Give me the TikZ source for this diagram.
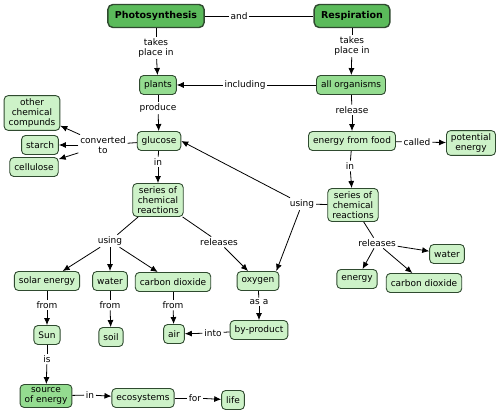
\documentclass[tikz,border=0pt]{standalone}
\usepackage{fontspec}
\setmainfont{DejaVu Sans}
\usetikzlibrary{arrows.meta}
\definecolor{darkleaf}{HTML}{5BBB5B}
\definecolor{midleaf}{HTML}{94DC90}
\definecolor{paleleaf}{HTML}{CDF2C8}
\definecolor{boxline}{HTML}{2F4A2F}
\begin{document}
\begin{tikzpicture}[x=1pt,y=-1pt,
    concept/.style={draw=boxline,line width=0.9pt,rounded corners=4pt,fill=paleleaf,
        inner xsep=4.5pt,inner ysep=3pt,minimum height=19pt,align=center,
        font=\fontsize{9}{10}\selectfont},
    mid/.style={concept,fill=midleaf},
    top/.style={concept,fill=darkleaf,line width=1.4pt,minimum height=23pt,
        inner xsep=7pt,rounded corners=5pt,font=\fontsize{9.5}{11}\selectfont\bfseries},
    link/.style={inner sep=1.5pt,align=center,font=\fontsize{9}{10}\selectfont},
    arrowto/.style={-{Latex[length=7pt,width=6pt]}}
  ]
  \useasboundingbox (0,0) rectangle (500,414);
  \tikzset{every path/.style={line width=0.8pt}}

  % main concepts
  \node[top] (photo) at (156,16) {Photosynthesis};
  \node[top] (resp) at (352,16) {Respiration};
  \node[link] (and) at (239,16) {and};

  \node[mid] (plants) at (158,85) {plants};
  \node[mid] (organisms) at (351,85) {all organisms};
  \node[concept] (glucose) at (159,141) {glucose};
  \node[concept] (food) at (352,141) {energy from food};
  \node[concept] (potential) at (471,143) {potential\\energy};
  \node[concept] (other) at (32,113) {other\\chemical\\compunds};
  \node[concept] (starch) at (40,145) {starch};
  \node[concept] (cellulose) at (34,167) {cellulose};
  \node[concept] (seriesA) at (158,200) {series of\\chemical\\reactions};
  \node[concept] (seriesB) at (353,205) {series of\\chemical\\reactions};
  \node[concept] (solar) at (47,281) {solar energy};
  \node[concept] (water) at (110,281) {water};
  \node[concept] (dioxideA) at (173,282) {carbon dioxide};
  \node[concept] (oxygen) at (258,281) {oxygen};
  \node[concept] (waterB) at (447,254) {water};
  \node[concept] (energy) at (357,279) {energy};
  \node[concept] (dioxideB) at (424,283) {carbon dioxide};
  \node[concept] (sun) at (47,335) {Sun};
  \node[concept] (soil) at (111,337) {soil};
  \node[concept] (air) at (174,334) {air};
  \node[concept] (byproduct) at (259,330) {by-product};
  \node[mid] (source) at (46,396) {source\\of energy};
  \node[concept] (eco) at (143,398) {ecosystems};
  \node[concept] (life) at (233,400) {life};

  % linking phrases
  \node[link] (takesA) at (156,48) {takes\\place in};
  \node[link] (takesB) at (352,46) {takes\\place in};
  \node[link] (including) at (245,85) {including};
  \node[link] (produce) at (158,108) {produce};
  \node[link] (release) at (352,110) {release};
  \node[link] (called) at (417,142) {called};
  \node[link] (converted) at (103,145) {converted\\to};
  \node[link] (inA) at (158,162) {in};
  \node[link] (inB) at (350,166) {in};
  \node[link] (usingA) at (110,241) {using};
  \node[link] (releasesA) at (219,242) {releases};
  \node[link] (usingB) at (302,204) {using};
  \node[link] (releasesB) at (377,243) {releases};
  \node[link] (fromA) at (47,305) {from};
  \node[link] (fromB) at (110,305) {from};
  \node[link] (fromC) at (173,305) {from};
  \node[link] (asa) at (259,302) {as a};
  \node[link] (into) at (213,333) {into};
  \node[link] (is) at (47,359) {is};
  \node[link] (inC) at (90,395) {in};
  \node[link] (for) at (195,398) {for};

  % connectors
  \draw (photo) -- (and);
  \draw (and) -- (resp);
  \draw (photo) -- (takesA);
  \draw[arrowto] (takesA) -- (plants);
  \draw (resp) -- (takesB);
  \draw[arrowto] (takesB) -- (organisms);
  \draw (organisms) -- (including);
  \draw[arrowto] (including) -- (plants);
  \draw (plants) -- (produce);
  \draw[arrowto] (produce) -- (glucose);
  \draw (organisms) -- (release);
  \draw[arrowto] (release) -- (food);
  \draw (food) -- (called);
  \draw[arrowto] (called) -- (potential);
  \draw (glucose) -- (converted);
  \foreach \target in {other,starch,cellulose}
    \draw[arrowto] (converted) -- (\target);
  \draw (glucose) -- (inA);
  \draw[arrowto] (inA) -- (seriesA);
  \draw (food) -- (inB);
  \draw[arrowto] (inB) -- (seriesB);
  \draw (seriesA) -- (usingA);
  \foreach \target in {solar,water,dioxideA}
    \draw[arrowto] (usingA) -- (\target);
  \draw (seriesA) -- (releasesA);
  \draw[arrowto] (releasesA) -- (oxygen);
  \draw (seriesB) -- (usingB);
  \draw[arrowto] (usingB) -- (glucose.east);
  \draw[arrowto] (usingB) -- ([xshift=-3pt]oxygen.north east);
  \draw (seriesB) -- (releasesB);
  \foreach \target in {waterB,energy,dioxideB}
    \draw[arrowto] (releasesB) -- (\target);
  \draw (solar) -- (fromA);
  \draw[arrowto] (fromA) -- (sun);
  \draw (water) -- (fromB);
  \draw[arrowto] (fromB) -- (soil);
  \draw (dioxideA) -- (fromC);
  \draw[arrowto] (fromC) -- (air);
  \draw (oxygen) -- (asa);
  \draw[arrowto] (asa) -- (byproduct);
  \draw (byproduct) -- (into);
  \draw[arrowto] (into) -- (air);
  \draw (sun) -- (is);
  \draw[arrowto] (is) -- (source);
  \draw (source) -- (inC);
  \draw[arrowto] (inC) -- (eco);
  \draw (eco) -- (for);
  \draw[arrowto] (for) -- (life);
\end{tikzpicture}
\end{document}
